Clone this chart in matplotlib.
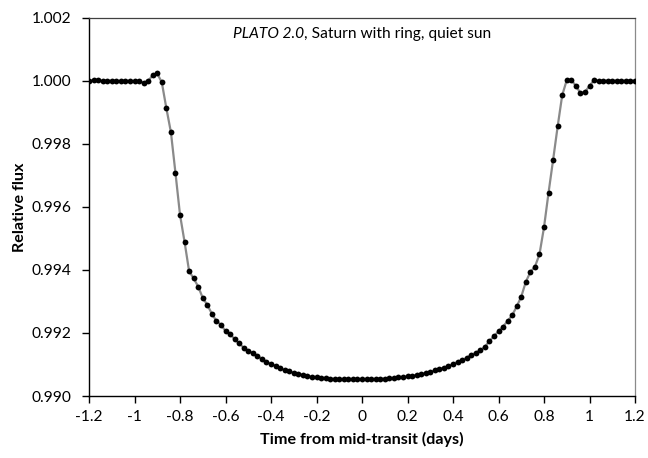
import matplotlib
matplotlib.use('Agg')
import matplotlib.pyplot as plt

plt.rcParams['font.family'] = ['Lato', 'DejaVu Sans']

time = [-1.20, -1.18, -1.16, -1.14, -1.12, -1.10, -1.08, -1.06, -1.04, -1.02,
        -1.00, -0.98, -0.96, -0.94, -0.92, -0.90, -0.88, -0.86, -0.84, -0.82,
        -0.80, -0.78, -0.76, -0.74, -0.72, -0.70, -0.68, -0.66, -0.64, -0.62,
        -0.60, -0.58, -0.56, -0.54, -0.52, -0.50, -0.48, -0.46, -0.44, -0.42,
        -0.40, -0.38, -0.36, -0.34, -0.32, -0.30, -0.28, -0.26, -0.24, -0.22,
        -0.20, -0.18, -0.16, -0.14, -0.12, -0.10, -0.08, -0.06, -0.04, -0.02,
        0.00,
        0.02, 0.04, 0.06, 0.08, 0.10, 0.12, 0.14, 0.16, 0.18, 0.20,
        0.22, 0.24, 0.26, 0.28, 0.30, 0.32, 0.34, 0.36, 0.38, 0.40,
        0.42, 0.44, 0.46, 0.48, 0.50, 0.52, 0.54, 0.56, 0.58, 0.60,
        0.62, 0.64, 0.66, 0.68, 0.70, 0.72, 0.74, 0.76, 0.78, 0.80,
        0.82, 0.84, 0.86, 0.88, 0.90, 0.92, 0.94, 0.96, 0.98, 1.00,
        1.02, 1.04, 1.06, 1.08, 1.10, 1.12, 1.14, 1.16, 1.18, 1.20]

flux = [1.00000, 1.00001, 1.00001, 1.00000, 1.00000, 1.00000, 0.99999, 0.99999, 1.00000, 0.99999,
        0.99999, 0.99998, 0.99994, 1.00000, 1.00017, 1.00023, 0.99995, 0.99913, 0.99837, 0.99708,
        0.99575, 0.99489, 0.99396, 0.99373, 0.99347, 0.99311, 0.99289, 0.99261, 0.99238, 0.99226,
        0.99206, 0.99197, 0.99180, 0.99167, 0.99153, 0.99143, 0.99137, 0.99127, 0.99118, 0.99108,
        0.99102, 0.99096, 0.99088, 0.99082, 0.99078, 0.99074, 0.99071, 0.99067, 0.99063, 0.99061,
        0.99059, 0.99058, 0.99057, 0.99055, 0.99054, 0.99053, 0.99053, 0.99053, 0.99053, 0.99053,
        0.99053,
        0.99053, 0.99053, 0.99054, 0.99055, 0.99055, 0.99056, 0.99057, 0.99059, 0.99060, 0.99062,
        0.99064, 0.99067, 0.99069, 0.99073, 0.99077, 0.99081, 0.99086, 0.99090, 0.99095, 0.99102,
        0.99108, 0.99114, 0.99121, 0.99130, 0.99137, 0.99145, 0.99156, 0.99174, 0.99190, 0.99205,
        0.99220, 0.99238, 0.99256, 0.99284, 0.99315, 0.99362, 0.99393, 0.99410, 0.99449, 0.99535,
        0.99645, 0.99749, 0.99855, 0.99954, 1.00002, 1.00002, 0.99984, 0.99961, 0.99964, 0.99984,
        1.00002, 1.00000, 1.00000, 1.00000, 1.00000, 1.00000, 1.00000, 1.00000, 1.00000, 1.00000]

xtick_values = [-1.2, -1.0, -0.8, -0.6, -0.4, -0.2, 0.0, 0.2, 0.4, 0.6, 0.8, 1.0, 1.2]
xtick_labels = ["-1.2", "-1", "-0.8", "-0.6", "-0.4", "-0.2", "0", "0.2", "0.4", "0.6", "0.8", "1", "1.2"]
ytick_values = [0.990, 0.992, 0.994, 0.996, 0.998, 1.000, 1.002]
ytick_labels = ["0.990", "0.992", "0.994", "0.996", "0.998", "1.000", "1.002"]

title_italic = "PLATO 2.0"
title_rest = ", Saturn with ring, quiet sun"
xlabel = "Time from mid-transit (days)"
ylabel = "Relative flux"

W, H = 648, 458
fig = plt.figure(figsize=(W / 100, H / 100), dpi=100)
L, R, T, B = 89, 635, 17.7, 396
ax = fig.add_axes([L / W, 1 - B / H, (R - L) / W, (B - T) / H])

ax.plot(time, flux, color='#8a8a8a', lw=1.6, zorder=2, solid_joinstyle='round')
ax.plot(time, flux, 'o', color='black', ms=4.2, mew=0, zorder=3)

ax.set_xlim(-1.2, 1.2)
ax.set_ylim(0.990, 1.002)
ax.set_xticks(xtick_values)
ax.set_xticklabels(xtick_labels)
ax.set_yticks(ytick_values)
ax.set_yticklabels(ytick_labels)

ax.tick_params(axis='both', direction='out', length=5, width=1, colors='black', labelsize=11.2)
ax.tick_params(axis='y', pad=8)
ax.tick_params(axis='x', pad=5)

for s in ['left', 'bottom']:
    ax.spines[s].set_color('black')
    ax.spines[s].set_linewidth(1.0)
ax.spines['top'].set_color('#404040')
ax.spines['top'].set_linewidth(0.9)
ax.spines['right'].set_color('#8a8a8a')
ax.spines['right'].set_linewidth(0.9)

ax.set_xlabel(xlabel, fontsize=11.6, fontweight='bold')
ax.xaxis.set_label_coords(0.5, (B - 439) / (B - T))
ax.xaxis.label.set_va('center')
ax.set_ylabel(ylabel, fontsize=11.6, fontweight='bold')
ax.yaxis.set_label_coords((20 - L) / (R - L), 0.5)
ax.yaxis.label.set_va('center')

fs_title = 11.2
ybase = (B - 38.3) / (B - T)
t1 = ax.text(0.3, ybase, title_italic, style='italic', fontsize=fs_title,
             transform=ax.transAxes, ha='left', va='baseline')
t2 = ax.annotate(title_rest, xy=(1, 0), xycoords=t1, ha='left', va='bottom',
                 fontsize=fs_title)
fig.canvas.draw()
r = fig.canvas.get_renderer()
w1 = t1.get_window_extent(r).width
w2 = t2.get_window_extent(r).width
axw = ax.get_window_extent(r).width
t1.set_x(0.5 - (w1 + w2) / 2 / axw)

fig.savefig('out.png', dpi=100)
